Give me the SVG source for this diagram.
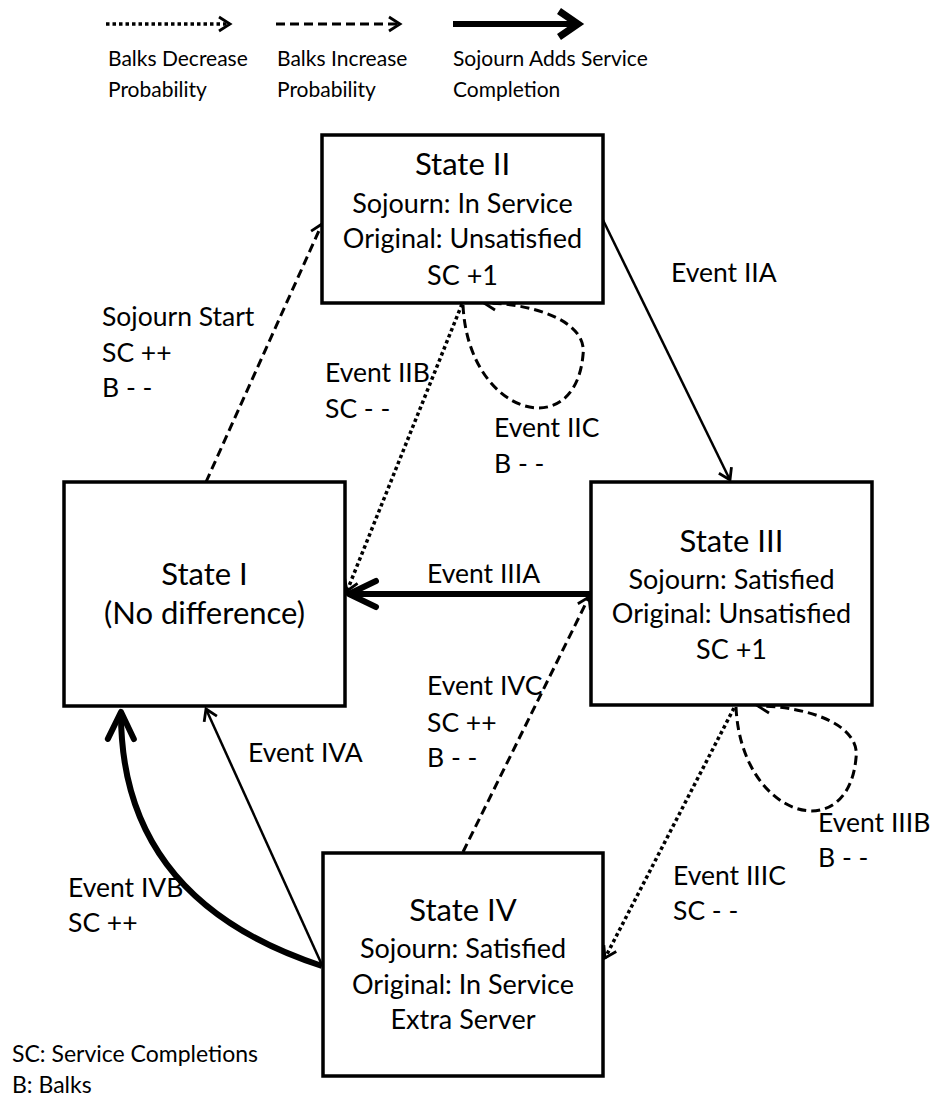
<svg xmlns="http://www.w3.org/2000/svg" width="937" height="1099" viewBox="0 0 937 1099">
<style>
text{font-family:Lato,"Liberation Sans",sans-serif;fill:#000}
.t{font-size:31px;text-anchor:middle}
.l{font-size:27px;text-anchor:middle}
.lab{font-size:26.5px}
.leg{font-size:21px}
.foot{font-size:23px}
.box{fill:#fff;stroke:#000;stroke-width:3.5}
.thin{fill:none;stroke:#000;stroke-width:2.5}
.dash{fill:none;stroke:#000;stroke-width:3;stroke-dasharray:9 5}
.dot{fill:none;stroke:#000;stroke-width:3.5;stroke-dasharray:3.5 3}
.thick{fill:none;stroke:#000;stroke-width:6}
</style>
<defs>
<marker id="a" markerUnits="userSpaceOnUse" orient="auto" markerWidth="30" markerHeight="30" refX="0" refY="0" viewBox="-15 -15 30 30" overflow="visible">
<path d="M-11,-7 L0,0 L-11,7" fill="none" stroke="#000" stroke-width="2.8" stroke-linejoin="miter"/>
</marker>
<marker id="ab" markerUnits="userSpaceOnUse" orient="auto" markerWidth="60" markerHeight="60" refX="0" refY="0" viewBox="-30 -30 60 60" overflow="visible">
<path d="M-27,-13 L0,0 L-27,13" fill="none" stroke="#000" stroke-width="6" stroke-linecap="round" stroke-linejoin="round"/>
</marker>
<marker id="al" markerUnits="userSpaceOnUse" orient="auto" markerWidth="60" markerHeight="60" refX="0" refY="0" viewBox="-30 -30 60 60" overflow="visible">
<path d="M-19,-13 L0,0 L-19,13" fill="none" stroke="#000" stroke-width="7" stroke-linejoin="miter"/>
</marker>
</defs>
<g id="legend">
<path class="dot" d="M106,24 L230,24" marker-end="url(#a)"/>
<path class="dash" d="M276,24 L400,24" marker-end="url(#a)"/>
<path class="thick" d="M453,24 L578,24" stroke-width="7" marker-end="url(#al)"/>
<text class="leg" x="108" y="66">Balks Decrease</text>
<text class="leg" x="108" y="97">Probability</text>
<text class="leg" x="277" y="66">Balks Increase</text>
<text class="leg" x="277" y="97">Probability</text>
<text class="leg" x="453" y="66">Sojourn Adds Service</text>
<text class="leg" x="453" y="97">Completion</text>
<text class="foot" x="12" y="1062">SC: Service Completions</text>
<text class="foot" x="12" y="1093">B: Balks</text>
</g>
<g id="connectors">
<path class="dash" d="M206,482 L322,224" marker-end="url(#a)"/>
<path class="thin" d="M603,220 L730,480" marker-end="url(#a)"/>
<path class="dot" d="M462,304 L347,591" marker-end="url(#a)"/>
<path class="dash" d="M463,305 C468,415 575,445 583,355 C588,320 530,303 484,303" marker-end="url(#a)"/>
<path class="thick" d="M590,594 L349,594" marker-end="url(#ab)"/>
<path class="dash" d="M463,852 L589,597" marker-end="url(#a)"/>
<path class="dash" d="M736,707 C741,818 848,848 856,758 C861,723 803,706 758,706" marker-end="url(#a)"/>
<path class="dot" d="M734,708 L605,958" marker-end="url(#a)"/>
<path class="thin" d="M322,965 L206,709" marker-end="url(#a)"/>
<path class="thick" d="M322,966 Q120,900 121,712" marker-end="url(#ab)"/>
</g>
<g id="labels">
<text class="lab" x="102" y="326">Sojourn Start</text>
<text class="lab" x="102" y="362">SC ++</text>
<text class="lab" x="102" y="397">B - -</text>
<text class="lab" x="671" y="282">Event IIA</text>
<text class="lab" x="325" y="382">Event IIB</text>
<text class="lab" x="325" y="418">SC - -</text>
<text class="lab" x="494" y="437">Event IIC</text>
<text class="lab" x="494" y="473">B - -</text>
<text class="lab" x="427" y="583">Event IIIA</text>
<text class="lab" x="427" y="695">Event IVC</text>
<text class="lab" x="427" y="732">SC ++</text>
<text class="lab" x="427" y="767">B - -</text>
<text class="lab" x="248" y="762">Event IVA</text>
<text class="lab" x="818" y="832">Event IIIB</text>
<text class="lab" x="818" y="867">B - -</text>
<text class="lab" x="673" y="885">Event IIIC</text>
<text class="lab" x="673" y="920">SC - -</text>
<text class="lab" x="68" y="897">Event IVB</text>
<text class="lab" x="68" y="932">SC ++</text>
</g>
<g id="state1">
<rect class="box" x="64" y="482" width="281" height="224"/>
<text class="t" x="204.5" y="585">State I</text>
<text class="t" x="204.5" y="624">(No difference)</text>
</g>
<g id="state2">
<rect class="box" x="322" y="135" width="281" height="168"/>
<text class="t" x="462.5" y="175">State II</text>
<text class="l" x="462.5" y="213">Sojourn: In Service</text>
<text class="l" x="462.5" y="248">Original: Unsatisfied</text>
<text class="l" x="462.5" y="285">SC +1</text>
</g>
<g id="state3">
<rect class="box" x="591" y="482" width="281" height="223"/>
<text class="t" x="731.5" y="552">State III</text>
<text class="l" x="731.5" y="589">Sojourn: Satisfied</text>
<text class="l" x="731.5" y="623">Original: Unsatisfied</text>
<text class="l" x="731.5" y="659">SC +1</text>
</g>
<g id="state4">
<rect class="box" x="323" y="853" width="280" height="223"/>
<text class="t" x="463" y="921">State IV</text>
<text class="l" x="463" y="958">Sojourn: Satisfied</text>
<text class="l" x="463" y="994">Original: In Service</text>
<text class="l" x="463" y="1029">Extra Server</text>
</g>
</svg>
